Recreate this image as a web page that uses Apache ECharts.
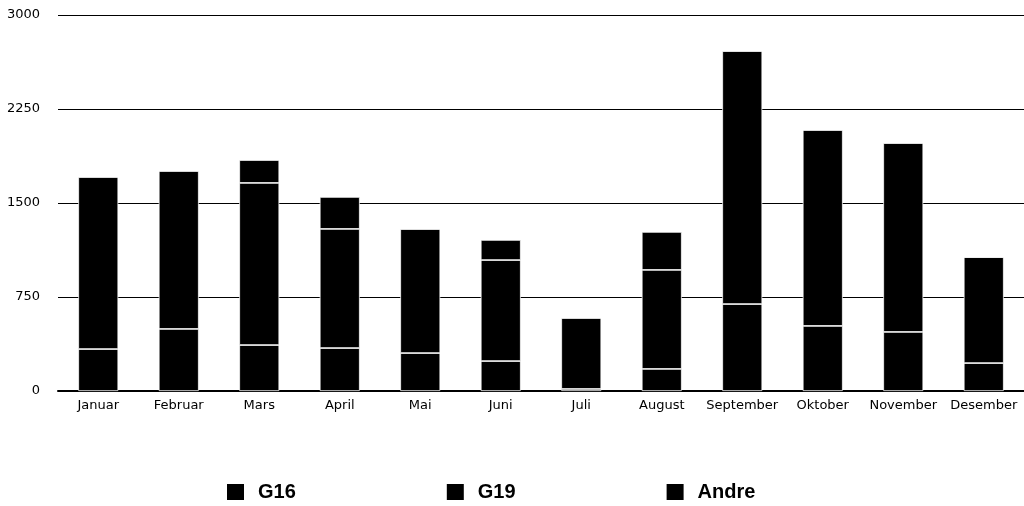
<!DOCTYPE html>
<html>
<head>
<meta charset="utf-8">
<script src="https://cdn.jsdelivr.net/npm/echarts@6/dist/echarts.min.js"></script>
<style>
  html, body { margin: 0; padding: 0; background: #fff; }
  #chart { width: 1024px; height: 506px; }
</style>
</head>
<body>
<div id="chart"></div>
<script>
const months = ['Januar', 'Februar', 'Mars', 'April', 'Mai', 'Juni', 'Juli', 'August', 'September', 'Oktober', 'November', 'Desember']
const g16 = [335, 495, 367, 343, 303, 239, 16, 176, 694, 519, 471, 223]
const g19 = [1373, 1261, 1293, 950, 990, 806, 567, 790, 2019, 1564, 1508, 846]
const andre = [0, 0, 183, 255, 0, 160, 0, 303, 0, 0, 0, 0]
const yTicks = [0, 750, 1500, 2250, 3000]

const chart = echarts.init(document.getElementById('chart'))

const barStyle = {
  color: '#000',
  borderColor: '#fff',
  borderWidth: 0.75
}

const mkSeries = (name, data) => ({
  name,
  type: 'bar',
  stack: 'total',
  data,
  barWidth: 40,
  itemStyle: barStyle,
  emphasis: { disabled: true }
})

chart.setOption({
  animation: false,
  textStyle: { fontFamily: 'Liberation Sans' },
  grid: {
    left: 58,
    top: 15,
    width: 973,
    bottom: 115
  },
  xAxis: {
    type: 'category',
    data: months,
    axisLine: { lineStyle: { color: '#000', width: 2 } },
    axisTick: { show: false },
    axisLabel: { color: '#000', fontSize: 13, fontFamily: 'DejaVu Sans', margin: 8, interval: 0 }
  },
  yAxis: {
    type: 'value',
    min: yTicks[0],
    max: yTicks[yTicks.length - 1],
    interval: 750,
    axisLine: { show: false },
    axisTick: { show: false },
    axisLabel: { color: '#000', fontSize: 13, fontFamily: 'DejaVu Sans', margin: 18, formatter: v => String(v) },
    splitLine: { lineStyle: { color: '#000', width: 1 } }
  },
  legend: {
    left: 220,
    top: 477,
    itemWidth: 19,
    itemHeight: 18,
    itemGap: 149,
    icon: 'rect',
    textStyle: { color: '#000', fontSize: 20, fontWeight: 'bold', padding: [0, 0, 0, 8] },
    data: ['G16', 'G19', 'Andre']
  },
  series: [
    mkSeries('G16', g16),
    mkSeries('G19', g19),
    mkSeries('Andre', andre)
  ]
})
</script>
</body>
</html>
